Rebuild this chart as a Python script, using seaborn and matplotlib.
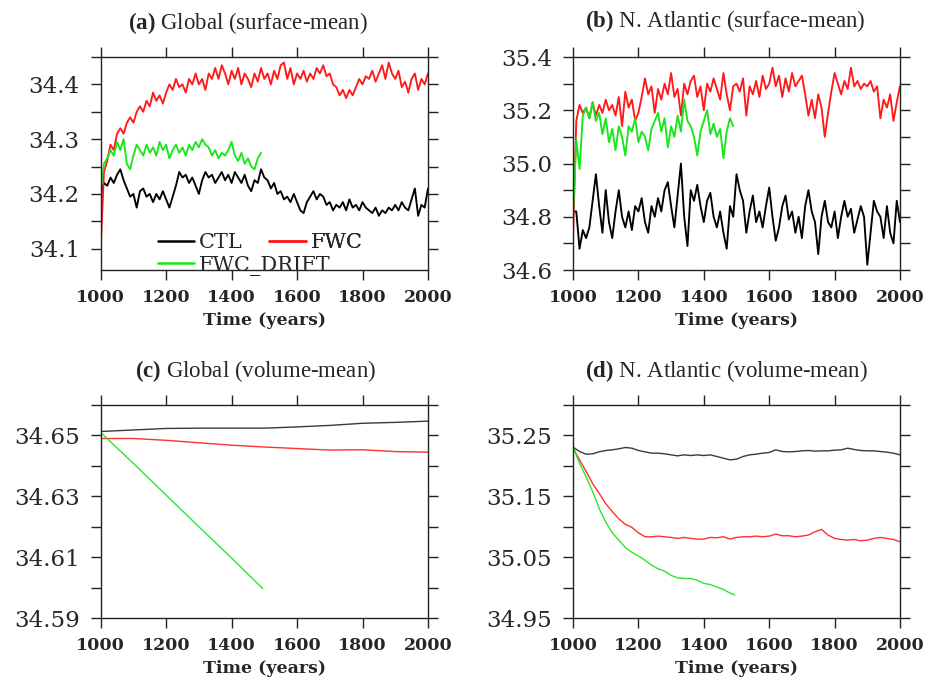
import numpy as np
import pandas as pd
import matplotlib
matplotlib.use("Agg")
import matplotlib.pyplot as plt
import seaborn as sns
from matplotlib.ticker import FixedLocator, MultipleLocator, FormatStrFormatter
from matplotlib.lines import Line2D

# ---------------- data ----------------
years10 = list(range(1000, 2001, 10))
years10_drift = list(range(1000, 1491, 10))

# (a) Global surface-mean salinity
a_fwc = [34.10, 34.24, 34.26, 34.29, 34.28, 34.31, 34.32, 34.31, 34.33, 34.34,
         34.33, 34.35, 34.36, 34.35, 34.37, 34.36, 34.385, 34.37, 34.38, 34.365,
         34.385, 34.40, 34.39, 34.41, 34.395, 34.40, 34.385, 34.41, 34.40, 34.42,
         34.40, 34.41, 34.39, 34.42, 34.41, 34.43, 34.41, 34.435, 34.42, 34.40,
         34.425, 34.41, 34.43, 34.40, 34.42, 34.41, 34.395, 34.42, 34.405, 34.43,
         34.41, 34.42, 34.40, 34.425, 34.41, 34.435, 34.44, 34.41, 34.43, 34.40,
         34.42, 34.41, 34.425, 34.405, 34.42, 34.41, 34.43, 34.42, 34.435, 34.415,
         34.42, 34.40, 34.395, 34.38, 34.39, 34.375, 34.39, 34.38, 34.395, 34.41,
         34.40, 34.415, 34.41, 34.425, 34.405, 34.42, 34.435, 34.41, 34.44, 34.42,
         34.41, 34.425, 34.395, 34.405, 34.385, 34.41, 34.42, 34.39, 34.41, 34.40,
         34.42]
a_ctl = [34.20, 34.22, 34.215, 34.23, 34.22, 34.235, 34.245, 34.225, 34.21, 34.195,
         34.20, 34.175, 34.205, 34.21, 34.195, 34.20, 34.185, 34.20, 34.19, 34.205,
         34.19, 34.175, 34.195, 34.215, 34.24, 34.23, 34.235, 34.22, 34.23, 34.215,
         34.20, 34.225, 34.24, 34.23, 34.235, 34.22, 34.23, 34.24, 34.225, 34.235,
         34.22, 34.24, 34.23, 34.22, 34.235, 34.215, 34.205, 34.225, 34.22, 34.245,
         34.23, 34.225, 34.21, 34.22, 34.20, 34.205, 34.19, 34.195, 34.185, 34.20,
         34.185, 34.17, 34.165, 34.185, 34.195, 34.205, 34.19, 34.20, 34.195, 34.18,
         34.185, 34.17, 34.18, 34.175, 34.185, 34.17, 34.19, 34.175, 34.18, 34.17,
         34.185, 34.175, 34.17, 34.165, 34.175, 34.16, 34.17, 34.165, 34.175, 34.17,
         34.18, 34.17, 34.185, 34.175, 34.17, 34.19, 34.21, 34.16, 34.18, 34.175,
         34.21]
a_drift = [34.21, 34.255, 34.265, 34.28, 34.27, 34.295, 34.28, 34.30, 34.255, 34.245,
           34.27, 34.29, 34.28, 34.27, 34.29, 34.275, 34.285, 34.27, 34.295, 34.28,
           34.29, 34.265, 34.28, 34.29, 34.275, 34.285, 34.27, 34.29, 34.28, 34.295,
           34.285, 34.30, 34.29, 34.285, 34.27, 34.28, 34.265, 34.275, 34.27, 34.28,
           34.295, 34.27, 34.26, 34.275, 34.255, 34.265, 34.25, 34.245, 34.265, 34.275]

# (b) N. Atlantic surface-mean salinity
b_fwc = [34.72, 35.16, 35.22, 35.19, 35.21, 35.17, 35.23, 35.18, 35.22, 35.19,
         35.24, 35.20, 35.22, 35.18, 35.25, 35.14, 35.27, 35.21, 35.24, 35.16,
         35.19, 35.25, 35.32, 35.26, 35.29, 35.19, 35.28, 35.24, 35.30, 35.26,
         35.34, 35.25, 35.28, 35.18, 35.30, 35.26, 35.31, 35.33, 35.25, 35.29,
         35.20, 35.30, 35.27, 35.32, 35.28, 35.24, 35.34, 35.26, 35.20, 35.29,
         35.30, 35.27, 35.32, 35.18, 35.29, 35.26, 35.31, 35.25, 35.33, 35.28,
         35.30, 35.36, 35.29, 35.33, 35.25, 35.32, 35.27, 35.34, 35.29, 35.31,
         35.33, 35.26, 35.18, 35.24, 35.17, 35.26, 35.21, 35.10, 35.19, 35.27,
         35.34, 35.30, 35.26, 35.31, 35.28, 35.36, 35.29, 35.31, 35.28, 35.30,
         35.29, 35.31, 35.27, 35.29, 35.17, 35.24, 35.21, 35.26, 35.16, 35.23,
         35.29]
b_drift = [34.80, 35.09, 34.98, 35.18, 35.21, 35.17, 35.23, 35.16, 35.19, 35.11,
           35.17, 35.08, 35.13, 35.05, 35.14, 35.10, 35.03, 35.14, 35.12, 35.17,
           35.08, 35.12, 35.10, 35.05, 35.13, 35.16, 35.19, 35.12, 35.17, 35.06,
           35.14, 35.10, 35.18, 35.12, 35.24, 35.16, 35.14, 35.10, 35.03, 35.12,
           35.16, 35.20, 35.11, 35.15, 35.10, 35.13, 35.02, 35.12, 35.17, 35.14]
b_ctl = [34.82, 34.82, 34.68, 34.75, 34.72, 34.76, 34.86, 34.96, 34.84, 34.74,
         34.90, 34.78, 34.72, 34.82, 34.90, 34.80, 34.76, 34.82, 34.75, 34.84,
         34.82, 34.87, 34.78, 34.74, 34.84, 34.80, 34.87, 34.82, 34.90, 34.93,
         34.84, 34.76, 34.88, 35.00, 34.80, 34.69, 34.90, 34.86, 34.92, 34.84,
         34.78, 34.86, 34.89, 34.80, 34.76, 34.82, 34.74, 34.68, 34.84, 34.80,
         34.96, 34.90, 34.86, 34.74, 34.82, 34.88, 34.78, 34.82, 34.76, 34.84,
         34.91, 34.80, 34.71, 34.76, 34.84, 34.88, 34.79, 34.82, 34.74, 34.80,
         34.72, 34.84, 34.90, 34.82, 34.78, 34.66, 34.80, 34.86, 34.78, 34.76,
         34.82, 34.72, 34.80, 34.86, 34.80, 34.83, 34.74, 34.79, 34.84, 34.80,
         34.62, 34.74, 34.86, 34.82, 34.80, 34.72, 34.84, 34.74, 34.70, 34.86,
         34.78]

# (c) Global volume-mean salinity
years_c = [1000, 1100, 1200, 1300, 1400, 1500, 1600, 1700, 1800, 1900, 2000]
c_ctl = [34.6513, 34.6518, 34.6523, 34.6524, 34.6524, 34.6524, 34.6528, 34.6533,
         34.6540, 34.6543, 34.6547]
c_fwc = [34.6490, 34.6490, 34.6484, 34.6476, 34.6468, 34.6462, 34.6457, 34.6452,
         34.6453, 34.6447, 34.6445]
years_c_drift = [1000, 1100, 1200, 1300, 1400, 1495]
c_drift = [34.6510, 34.6408, 34.6304, 34.6200, 34.6097, 34.5997]

# (d) N. Atlantic volume-mean salinity
years_d = list(range(1000, 2001, 20))
d_ctl = [35.2308, 35.2236, 35.2192, 35.2198, 35.2231, 35.2253, 35.2264, 35.2280,
         35.2302, 35.2291, 35.2253, 35.2231, 35.2209, 35.2209, 35.2198, 35.2181,
         35.2165, 35.2181, 35.2170, 35.2181, 35.2170, 35.2181, 35.2154, 35.2126,
         35.2099, 35.2110, 35.2154, 35.2181, 35.2192, 35.2209, 35.2220, 35.2264,
         35.2236, 35.2231, 35.2236, 35.2247, 35.2253, 35.2242, 35.2247, 35.2247,
         35.2258, 35.2264, 35.2291, 35.2269, 35.2253, 35.2247, 35.2247, 35.2236,
         35.2225, 35.2209, 35.2181]
d_fwc = [35.229, 35.210, 35.191, 35.171, 35.155, 35.138, 35.125, 35.113, 35.104,
         35.099, 35.090, 35.0835, 35.0835, 35.0846, 35.0835, 35.0824, 35.0808,
         35.0824, 35.0808, 35.0797, 35.0797, 35.0824, 35.0819, 35.0835, 35.0797,
         35.0824, 35.0835, 35.0835, 35.0846, 35.0835, 35.0846, 35.0879, 35.0852,
         35.0852, 35.0835, 35.0846, 35.0863, 35.0918, 35.0956, 35.0863, 35.0808,
         35.0791, 35.0780, 35.0791, 35.0769, 35.0780, 35.0808, 35.0824, 35.0808,
         35.0791, 35.0753]
years_d_drift = [1000, 1020, 1040, 1060, 1080, 1100, 1120, 1140, 1160, 1180, 1200,
                 1220, 1240, 1260, 1280, 1300, 1320, 1340, 1360, 1380, 1400, 1420,
                 1440, 1460, 1480, 1495]
d_drift = [35.231, 35.204, 35.182, 35.158, 35.130, 35.108, 35.090, 35.078, 35.066,
           35.058, 35.052, 35.045, 35.037, 35.031, 35.027, 35.020, 35.016, 35.015,
           35.015, 35.012, 35.007, 35.005, 35.001, 34.997, 34.991, 34.988]

runs = ["CTL", "FWC", "FWC_DRIFT"]
titles = [r"$\mathbf{(a)}$ Global (surface-mean)",
          r"$\mathbf{(b)}$ N. Atlantic (surface-mean)",
          r"$\mathbf{(c)}$ Global (volume-mean)",
          r"$\mathbf{(d)}$ N. Atlantic (volume-mean)"]
xticks = [1000, 1200, 1400, 1600, 1800, 2000]

# ---------------- style ----------------
sns.set_style("ticks")
plt.rcParams["font.family"] = ["DejaVu Serif"]
plt.rcParams["mathtext.fontset"] = "custom"
plt.rcParams["mathtext.rm"] = "Liberation Serif"
plt.rcParams["mathtext.bf"] = "Liberation Serif:bold"

palette = {"CTL": "black", "FWC": "#ff1a1a", "FWC_DRIFT": "#19e619"}
palette_vol = {"CTL": "#3a3a3a", "FWC": "#ff3030", "FWC_DRIFT": "#2ee62e"}


def frame(series):
    rows = []
    for run, (yrs, vals) in series.items():
        for y, v in zip(yrs, vals):
            rows.append({"year": y, "salinity": v, "run": run})
    return pd.DataFrame(rows)


panels = [
    dict(df=frame({"CTL": (years10, a_ctl), "FWC": (years10, a_fwc),
                   "FWC_DRIFT": (years10_drift, a_drift)}),
         pos=[0.1078, 0.6023, 0.3504, 0.3137], ylim=(34.061, 34.450),
         major=[34.1, 34.2, 34.3, 34.4], minor=0.05, fmt="%.1f", lw=1.35,
         pal=palette, title_xy=(248, 23)),
    dict(df=frame({"CTL": (years10, b_ctl), "FWC": (years10, b_fwc),
                   "FWC_DRIFT": (years10_drift, b_drift)}),
         pos=[0.6135, 0.6023, 0.3501, 0.3137], ylim=(34.6, 35.4),
         major=[34.6, 34.8, 35.0, 35.2, 35.4], minor=0.1, fmt="%.1f", lw=1.35,
         pal=palette, title_xy=(725, 21)),
    dict(df=frame({"CTL": (years_c, c_ctl), "FWC": (years_c, c_fwc),
                   "FWC_DRIFT": (years_c_drift, c_drift)}),
         pos=[0.1078, 0.0898, 0.3504, 0.3137], ylim=(34.59, 34.66),
         major=[34.59, 34.61, 34.63, 34.65], minor=0.01, fmt="%.2f", lw=1.0,
         pal=palette_vol, title_xy=(256, 371)),
    dict(df=frame({"CTL": (years_d, d_ctl), "FWC": (years_d, d_fwc),
                   "FWC_DRIFT": (years_d_drift, d_drift)}),
         pos=[0.6135, 0.0898, 0.3501, 0.3137], ylim=(34.95, 35.30),
         major=[34.95, 35.05, 35.15, 35.25], minor=0.05, fmt="%.2f", lw=1.0,
         pal=palette_vol, title_xy=(727, 371)),
]

W, H = 934, 679
fig = plt.figure(figsize=(W / 100, H / 100), dpi=100)

axes = []
for i, p in enumerate(panels):
    ax = fig.add_axes(p["pos"])
    sns.lineplot(data=p["df"], x="year", y="salinity", hue="run",
                 hue_order=runs, palette=p["pal"], estimator=None, sort=False,
                 linewidth=p["lw"], legend=False, ax=ax)
    ax.set_xlim(1000, 2000)
    ax.set_ylim(*p["ylim"])
    ax.xaxis.set_major_locator(FixedLocator(xticks))
    ax.yaxis.set_major_locator(FixedLocator(p["major"]))
    ax.yaxis.set_minor_locator(MultipleLocator(p["minor"]))
    ax.yaxis.set_major_formatter(FormatStrFormatter(p["fmt"]))
    ax.tick_params(axis="both", which="both", direction="out", length=7,
                   width=1.0, color="#222222", top=True, right=True,
                   labeltop=False, labelright=False)
    ax.tick_params(axis="x", which="major", labelsize=12.5, pad=7)
    ax.tick_params(axis="y", which="major", labelsize=16.5, pad=8)
    for lab in ax.get_xticklabels():
        lab.set_fontweight("bold")
    for s in ax.spines.values():
        s.set_linewidth(1.0)
        s.set_color("#222222")
        s.set_visible(True)
    ax.set_xlabel("Time (years)", fontsize=12.5, fontweight="bold", labelpad=4)
    ax.set_ylabel("")
    tx, ty = p["title_xy"]
    fig.text(tx / W, 1 - ty / H, titles[i], ha="center", va="center",
             fontsize=16.5, family="Liberation Serif")
    axes.append(ax)

# legend of panel (a): three entries placed like the original
ax = axes[0]
entries = [("CTL", 0.174, 0.127), ("FWC_DRIFT", 0.174, 0.020), ("FWC", 0.515, 0.127)]
for name, lx, ly in entries:
    h = Line2D([], [], color=palette[name], linewidth=1.8)
    leg = ax.legend([h], [name], loc="center left", bbox_to_anchor=(lx, ly),
                    frameon=False, fontsize=15, handlelength=1.75,
                    handletextpad=0.25, borderpad=0, borderaxespad=0)
    ax.add_artist(leg)

fig.savefig("out.png", dpi=100)
